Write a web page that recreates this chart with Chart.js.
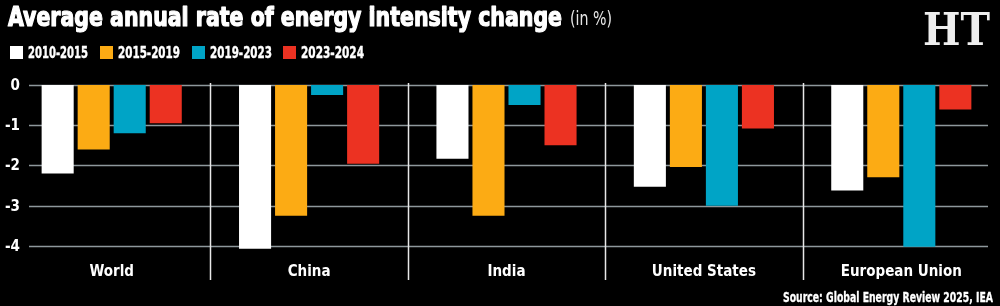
<!DOCTYPE html>
<html>
<head>
<meta charset="utf-8">
<script src="https://cdn.jsdelivr.net/npm/chart.js@4.4.1/dist/chart.umd.min.js"></script>
<style>
  html, body { margin: 0; padding: 0; background: #000; }
  #wrap { width: 1000px; height: 306px; position: relative; }
</style>
</head>
<body>
<div id="wrap"><canvas id="c" width="1000" height="306"></canvas></div>
<script>
// ---- data ----
const categories = ['World', 'China', 'India', 'United States', 'European Union'];
const periods = ['2010-2015', '2015-2019', '2019-2023', '2023-2024'];
const s2010_2015 = [-2.2, -4.07, -1.83, -2.53, -2.62];
const s2015_2019 = [-1.6, -3.25, -3.25, -2.04, -2.29];
const s2019_2023 = [-1.2, -0.25, -0.5, -3.0, -4.02];
const s2023_2024 = [-0.95, -1.96, -1.5, -1.08, -0.61];
const yTicks = [0, -1, -2, -3, -4];
const titleText = 'Average annual rate of energy intensity change';
const titleUnit = '(in %)';
const sourceText = 'Source: Global Energy Review 2025, IEA';

const colors = ['#ffffff', '#fcab14', '#00a4c6', '#ec3222'];
const FONT = '"Liberation Sans Narrow", "DejaVu Sans Condensed", Roboto, sans-serif';

function fitText(ctx, text, x, y, w, align, stroke) {
  const m = ctx.measureText(text).width;
  const sx = w / m;
  ctx.save();
  ctx.translate(align === 'right' ? x - w : x, y);
  ctx.scale(sx, 1);
  ctx.textAlign = 'left';
  ctx.fillText(text, 0, 0);
  if (stroke) {
    ctx.strokeStyle = ctx.fillStyle;
    ctx.lineWidth = stroke;
    ctx.lineJoin = 'round';
    ctx.strokeText(text, 0, 0);
  }
  ctx.restore();
}

const deco = {
  id: 'deco',
  beforeDraw(chart) {
    const ctx = chart.ctx;
    ctx.save();
    ctx.fillStyle = '#000';
    ctx.fillRect(0, 0, chart.width, chart.height);
    ctx.restore();
  },
  beforeDatasetsDraw(chart) {
    const ctx = chart.ctx;
    const ys = chart.scales.y, xs = chart.scales.x;
    ctx.save();
    // horizontal gridlines
    ctx.strokeStyle = '#8e989c';
    ctx.lineWidth = 1.5;
    yTicks.forEach(v => {
      const py = Math.round(ys.getPixelForValue(v)) + 0.5;
      ctx.beginPath();
      ctx.moveTo(29, py);
      ctx.lineTo(988, py);
      ctx.stroke();
    });
    // vertical separators
    ctx.strokeStyle = '#e8e8e8';
    ctx.lineWidth = 1.5;
    const top = ys.getPixelForValue(0) - 2;
    for (let i = 0; i < categories.length - 1; i++) {
      const px = Math.round((xs.getPixelForValue(i) + xs.getPixelForValue(i + 1)) / 2) + 0.5;
      ctx.beginPath();
      ctx.moveTo(px, top);
      ctx.lineTo(px, 280);
      ctx.stroke();
    }
    ctx.restore();
  },
  afterDraw(chart) {
    const ctx = chart.ctx;
    const ys = chart.scales.y;
    ctx.save();
    ctx.fillStyle = '#fff';
    ctx.textBaseline = 'alphabetic';
    // title
    ctx.font = 'bold 26px ' + FONT;
    fitText(ctx, titleText, 8, 26, 554, 'left', 1.2);
    ctx.font = '20px ' + FONT;
    ctx.fillStyle = '#e6e6e6';
    fitText(ctx, titleUnit, 570, 25, 42, 'left');
    // legend
    const boxX = [10, 100, 192, 283];
    const txtW = [60, 62, 62, 63];
    ctx.font = 'bold 15px ' + FONT;
    periods.forEach((p, i) => {
      ctx.fillStyle = colors[i];
      ctx.fillRect(boxX[i], 46, 13, 13);
      ctx.fillStyle = '#fff';
      fitText(ctx, p, boxX[i] + 18, 57.5, txtW[i], 'left', 0.4);
    });
    // y tick labels
    ctx.font = 'bold 15px ' + FONT;
    ctx.textAlign = 'right';
    ctx.textBaseline = 'middle';
    ctx.fillStyle = '#fff';
    yTicks.forEach(v => {
      ctx.fillText(String(v), 20, ys.getPixelForValue(v) + 1);
    });
    // source
    ctx.textBaseline = 'alphabetic';
    ctx.font = 'bold 14px ' + FONT;
    fitText(ctx, sourceText, 993, 302, 210, 'right', 0.3);
    // HT logo
    ctx.font = 'bold 44px "DejaVu Serif", "Liberation Serif", serif';
    ctx.fillStyle = '#eeeeee';
    fitText(ctx, 'HT', 923, 45, 67, 'left');
    ctx.restore();
  }
};

const seriesList = [s2010_2015, s2015_2019, s2019_2023, s2023_2024];

new Chart(document.getElementById('c'), {
  type: 'bar',
  data: {
    labels: categories,
    datasets: periods.map((p, i) => ({
      label: p,
      data: seriesList[i],
      backgroundColor: colors[i],
      borderWidth: 0,
      categoryPercentage: 0.73,
      barPercentage: 0.89
    }))
  },
  options: {
    responsive: false,
    animation: false,
    layout: { padding: { top: 85, left: 13, right: 0, bottom: 16 } },
    plugins: { legend: { display: false }, title: { display: false }, tooltip: { enabled: false } },
    scales: {
      x: {
        grid: { display: false, drawTicks: false },
        border: { display: false },
        ticks: {
          color: '#ffffff',
          font: { family: FONT, size: 15, weight: 'bold' },
          padding: 9,
          maxRotation: 0,
          autoSkip: false
        }
      },
      y: {
        display: false,
        min: -4.2,
        max: 0
      }
    }
  },
  plugins: [deco]
});
</script>
</body>
</html>
